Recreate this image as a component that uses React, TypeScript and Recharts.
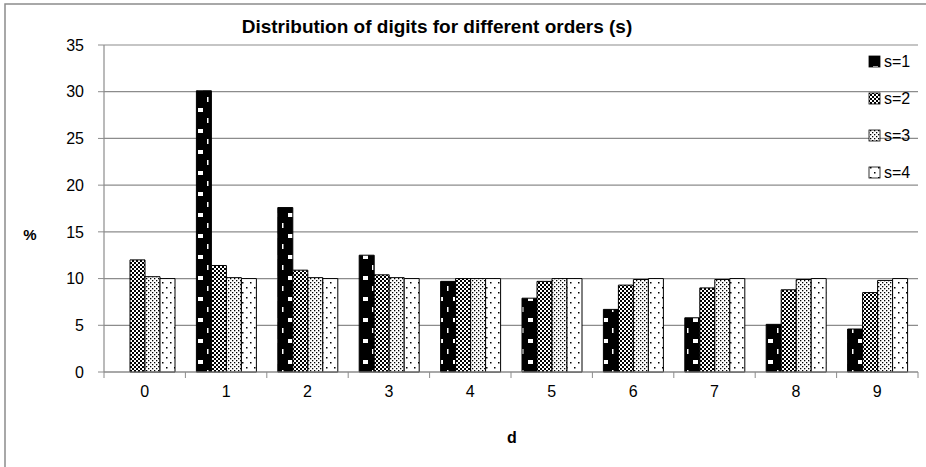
import { BarChart, Bar, XAxis, YAxis, CartesianGrid } from "recharts";

const digits = ["0", "1", "2", "3", "4", "5", "6", "7", "8", "9"];
const s1 = [null, 30.1, 17.6, 12.5, 9.7, 7.9, 6.7, 5.8, 5.1, 4.6];
const s2 = [12.0, 11.4, 10.9, 10.4, 10.0, 9.7, 9.3, 9.0, 8.8, 8.5];
const s3 = [10.2, 10.1, 10.1, 10.1, 10.0, 10.0, 9.9, 9.9, 9.9, 9.8];
const s4 = [10.0, 10.0, 10.0, 10.0, 10.0, 10.0, 10.0, 10.0, 10.0, 10.0];
const yTicks = [0, 5, 10, 15, 20, 25, 30, 35];
const seriesNames = ["s=1", "s=2", "s=3", "s=4"];

const data = digits.map((d, i) => ({ d, s1: s1[i], s2: s2[i], s3: s3[i], s4: s4[i] }));

const FONT = "'Liberation Sans', Arial, sans-serif";
const GRID = "#8c8c8c";
const keys = ["s1", "s2", "s3", "s4"];

function Patterns() {
  return (
    <defs>
      <pattern id="p-s1" width="15" height="21" patternUnits="userSpaceOnUse">
        <rect width="15" height="21" fill="#000" />
        <rect x="3" y="3" width="5" height="4" fill="#fff" />
        <rect x="12" y="13" width="1.5" height="5" fill="#fff" />
      </pattern>
      <pattern id="p-s2" width="4" height="4" patternUnits="userSpaceOnUse">
        <rect width="4" height="4" fill="#fff" />
        <rect width="2" height="2" fill="#000" />
        <rect x="2" y="2" width="2" height="2" fill="#000" />
      </pattern>
      <pattern id="p-s3" width="4" height="4" patternUnits="userSpaceOnUse">
        <rect width="4" height="4" fill="#fff" />
        <rect width="1.3" height="1.3" fill="#000" />
        <rect x="2" y="2" width="1.3" height="1.3" fill="#000" />
      </pattern>
      <pattern id="p-s4" width="8" height="10" patternUnits="userSpaceOnUse">
        <rect width="8" height="10" fill="#fff" />
        <rect x="2" y="2" width="1.5" height="1.5" fill="#000" />
        <rect x="6" y="7" width="1.5" height="1.5" fill="#000" />
      </pattern>
    </defs>
  );
}

// category label plus Excel-style tick marks on the band edges
function DigitTick(props: any) {
  const { x, y, payload, index } = props;
  const half = payload?.offset ?? 0;
  const top = y - 8;
  return (
    <g>
      <line x1={x - half} x2={x - half} y1={top} y2={top + 6} stroke={GRID} />
      {index === digits.length - 1 && (
        <line x1={x + half} x2={x + half} y1={top} y2={top + 6} stroke={GRID} />
      )}
      <text x={x} y={y + 6} dy="0.71em" textAnchor="middle" fontFamily={FONT} fontSize={16} fill="#000">
        {payload.value}
      </text>
    </g>
  );
}

export default function App() {
  return (
    <div style={{ position: "absolute", left: 0, top: 0, width: 926, height: 467, background: "#fff" }}>
      <BarChart
        width={926}
        height={467}
        data={data}
        margin={{ top: 45, right: 8, left: 44, bottom: 65 }}
        barGap={0}
        barSize={15}
      >
        <Patterns />
        <rect x={5} y={4} width={960} height={500} fill="none" stroke={GRID} strokeWidth={1.5} />
        <text x={437} y={33} textAnchor="middle" fontFamily={FONT} fontSize={19} fontWeight="bold" fill="#000">
          Distribution of digits for different orders (s)
        </text>
        <text x={30} y={240} textAnchor="middle" fontFamily={FONT} fontSize={15} fontWeight="bold" fill="#000">
          %
        </text>
        <text x={512} y={443} textAnchor="middle" fontFamily={FONT} fontSize={16} fontWeight="bold" fill="#000">
          d
        </text>
        <CartesianGrid vertical={false} stroke={GRID} strokeWidth={1.2} />
        <XAxis
          dataKey="d"
          height={30}
          tickLine={false}
          tickSize={0}
          tickMargin={8}
          interval={0}
          axisLine={{ stroke: GRID, strokeWidth: 1.2 }}
          tick={<DigitTick />}
        />
        <YAxis
          width={60}
          domain={[0, 35]}
          ticks={yTicks}
          tickSize={6}
          tickMargin={14}
          axisLine={{ stroke: GRID, strokeWidth: 1.2 }}
          tickLine={{ stroke: GRID }}
          tick={{ fontSize: 16, fill: "#000", fontFamily: FONT }}
        />
        <YAxis
          yAxisId="r"
          orientation="right"
          width={0}
          tick={false}
          tickLine={false}
          axisLine={{ stroke: GRID, strokeWidth: 1.2 }}
        />
        {keys.map((k) => (
          <Bar
            key={k}
            dataKey={k}
            fill={`url(#p-${k})`}
            stroke="#000"
            strokeWidth={1}
            isAnimationActive={false}
          />
        ))}
        {seriesNames.map((name, i) => (
          <g key={name}>
            <rect
              x={869}
              y={56 + i * 37}
              width={11}
              height={11}
              fill={`url(#p-${keys[i]})`}
              stroke="#000"
              strokeWidth={0.8}
            />
            <text x={884} y={67 + i * 37} fontFamily={FONT} fontSize={16} fill="#000">
              {name}
            </text>
          </g>
        ))}
      </BarChart>
    </div>
  );
}
